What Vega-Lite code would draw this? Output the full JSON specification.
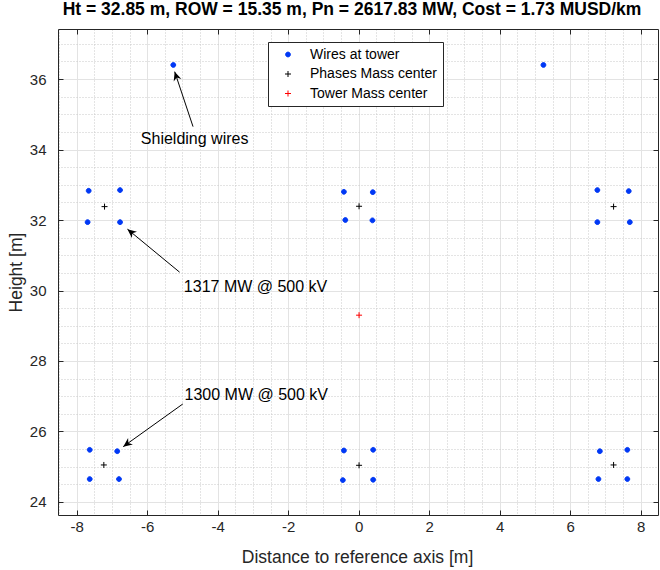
{
  "$schema": "https://vega.github.io/schema/vega-lite/v6.json",
  "width": 600,
  "height": 486,
  "autosize": "none",
  "padding": {"left": 58, "top": 29, "right": 2, "bottom": 55},
  "background": "white",
  "title": {
    "text": "Ht = 32.85 m, ROW = 15.35 m, Pn = 2617.83 MW, Cost = 1.73 MUSD/km",
    "font": "Liberation Sans",
    "fontSize": 17.5,
    "fontWeight": "bold",
    "color": "black",
    "anchor": "middle",
    "frame": "group",
    "baseline": "alphabetic",
    "offset": 10,
    "dx": -6,
    "dy": 14
  },
  "config": {
    "view": {"stroke": null},
    "axis": {
      "labelFont": "Liberation Sans",
      "titleFont": "Liberation Sans",
      "labelColor": "#262626",
      "titleColor": "#262626",
      "domainColor": "#262626",
      "tickColor": "#262626",
      "titleFontWeight": "normal"
    }
  },
  "datasets": {
    "points": [
      {"x": -7.66, "y": 32.83, "type": "Wires at tower"},
      {"x": -6.77, "y": 32.85, "type": "Wires at tower"},
      {"x": -7.69, "y": 31.94, "type": "Wires at tower"},
      {"x": -6.77, "y": 31.94, "type": "Wires at tower"},
      {"x": -0.42, "y": 32.8, "type": "Wires at tower"},
      {"x": 0.4, "y": 32.79, "type": "Wires at tower"},
      {"x": -0.38, "y": 32.0, "type": "Wires at tower"},
      {"x": 0.39, "y": 31.99, "type": "Wires at tower"},
      {"x": 6.77, "y": 32.85, "type": "Wires at tower"},
      {"x": 7.66, "y": 32.82, "type": "Wires at tower"},
      {"x": 6.77, "y": 31.94, "type": "Wires at tower"},
      {"x": 7.69, "y": 31.94, "type": "Wires at tower"},
      {"x": -7.63, "y": 25.48, "type": "Wires at tower"},
      {"x": -6.85, "y": 25.44, "type": "Wires at tower"},
      {"x": -7.63, "y": 24.65, "type": "Wires at tower"},
      {"x": -6.8, "y": 24.65, "type": "Wires at tower"},
      {"x": -0.42, "y": 25.46, "type": "Wires at tower"},
      {"x": 0.41, "y": 25.48, "type": "Wires at tower"},
      {"x": -0.45, "y": 24.62, "type": "Wires at tower"},
      {"x": 0.41, "y": 24.63, "type": "Wires at tower"},
      {"x": 6.84, "y": 25.44, "type": "Wires at tower"},
      {"x": 7.62, "y": 25.48, "type": "Wires at tower"},
      {"x": 6.8, "y": 24.65, "type": "Wires at tower"},
      {"x": 7.62, "y": 24.65, "type": "Wires at tower"},
      {"x": -5.26, "y": 36.4, "type": "Wires at tower"},
      {"x": 5.24, "y": 36.4, "type": "Wires at tower"},
      {"x": -7.21, "y": 32.38, "type": "Phases Mass center"},
      {"x": 0.01, "y": 32.39, "type": "Phases Mass center"},
      {"x": 7.23, "y": 32.38, "type": "Phases Mass center"},
      {"x": -7.23, "y": 25.05, "type": "Phases Mass center"},
      {"x": 0.01, "y": 25.04, "type": "Phases Mass center"},
      {"x": 7.23, "y": 25.05, "type": "Phases Mass center"},
      {"x": 0.01, "y": 29.3, "type": "Tower Mass center"}
    ],
    "arrows": [
      {"id": 1, "x": -4.7, "y": 34.65, "tipx": -5.22, "tipy": 36.21},
      {"id": 2, "x": -5.08, "y": 30.52, "tipx": -6.56, "tipy": 31.74},
      {"id": 3, "x": -4.99, "y": 26.78, "tipx": -6.68, "tipy": 25.57}
    ],
    "labels": [
      {"text": "Shielding wires", "x": -6.18, "y": 34.3},
      {"text": "1317 MW @ 500 kV", "x": -4.96, "y": 30.1},
      {"text": "1300 MW @ 500 kV", "x": -4.94, "y": 27.04}
    ]
  },
  "resolve": {"axis": {"x": "independent", "y": "independent"}},
  "layer": [
    {
      "data": {"name": "points"},
      "mark": {"type": "point", "opacity": 0},
      "encoding": {
        "x": {
          "field": "x", "type": "quantitative",
          "scale": {"domain": [-8.53, 8.49], "nice": false, "zero": false},
          "axis": {
            "orient": "bottom",
            "values": [-8.5, -7.5, -7, -6.5, -5.5, -5, -4.5, -3.5, -3, -2.5, -1.5, -1, -0.5, 0.5, 1, 1.5, 2.5, 3, 3.5, 4.5, 5, 5.5, 6.5, 7, 7.5],
            "grid": true, "gridDash": [1, 2], "gridColor": "#c8c8c8", "gridWidth": 1,
            "domain": false, "ticks": false, "labels": false, "title": null
          }
        },
        "y": {
          "field": "y", "type": "quantitative",
          "scale": {"domain": [23.63, 37.42], "nice": false, "zero": false},
          "axis": {
            "orient": "left",
            "values": [24.5, 25, 25.5, 26.5, 27, 27.5, 28.5, 29, 29.5, 30.5, 31, 31.5, 32.5, 33, 33.5, 34.5, 35, 35.5, 36.5, 37],
            "grid": true, "gridDash": [1, 2], "gridColor": "#c8c8c8", "gridWidth": 1,
            "domain": false, "ticks": false, "labels": false, "title": null
          }
        }
      }
    },
    {
      "data": {"name": "points"},
      "mark": {"type": "point", "opacity": 0},
      "encoding": {
        "x": {
          "field": "x", "type": "quantitative",
          "scale": {"domain": [-8.53, 8.49], "nice": false, "zero": false},
          "axis": {
            "orient": "top",
            "values": [-8, -6, -4, -2, 0, 2, 4, 6, 8],
            "grid": false, "labels": false, "domain": true, "ticks": true,
            "tickSize": -5, "title": null
          }
        },
        "y": {
          "field": "y", "type": "quantitative",
          "scale": {"domain": [23.63, 37.42], "nice": false, "zero": false},
          "axis": {
            "orient": "right",
            "values": [24, 26, 28, 30, 32, 34, 36],
            "grid": false, "labels": false, "domain": true, "ticks": true,
            "tickSize": -5, "title": null
          }
        }
      }
    },
    {
      "data": {"name": "points"},
      "mark": {"type": "point", "filled": true, "size": 36, "strokeWidth": 1, "opacity": 1},
      "encoding": {
        "x": {
          "field": "x", "type": "quantitative",
          "scale": {"domain": [-8.53, 8.49], "nice": false, "zero": false},
          "axis": {
            "orient": "bottom",
            "values": [-8, -6, -4, -2, 0, 2, 4, 6, 8],
            "labelExpr": "datum.value < 0 ? '-' + abs(datum.value) : '' + datum.value",
            "grid": true, "gridColor": "#e3e3e3", "gridWidth": 1,
            "domain": true, "ticks": true, "tickSize": -5,
            "labelFontSize": 15, "labelPadding": 9,
            "title": "Distance to reference axis [m]",
            "titleFontSize": 17.5, "titleX": 299, "titleY": 47,
            "titleAlign": "center", "titleBaseline": "alphabetic"
          }
        },
        "y": {
          "field": "y", "type": "quantitative",
          "scale": {"domain": [23.63, 37.42], "nice": false, "zero": false},
          "axis": {
            "orient": "left",
            "values": [24, 26, 28, 30, 32, 34, 36],
            "grid": true, "gridColor": "#e3e3e3", "gridWidth": 1,
            "domain": true, "ticks": true, "tickSize": -5,
            "labelFontSize": 15, "labelPadding": 17,
            "title": "Height [m]",
            "titleFontSize": 17.5, "titleX": -37, "titleY": 243,
            "titleAngle": -90, "titleAlign": "center", "titleBaseline": "alphabetic"
          }
        },
        "shape": {
          "field": "type", "type": "nominal",
          "scale": {
            "domain": ["Wires at tower", "Phases Mass center", "Tower Mass center"],
            "range": ["M-0.8,0A0.8,0.8,0,1,0,0.8,0A0.8,0.8,0,1,0,-0.8,0Z", "M-1,0H1M0,-1V1", "M-1,0H1M0,-1V1"]
          },
          "legend": {
            "orient": "none", "legendX": 210, "legendY": 13, "title": null,
            "fillColor": "white", "strokeColor": "#262626", "padding": 5.5,
            "labelFont": "Liberation Sans", "labelFontSize": 14, "labelColor": "black",
            "symbolOffset": 7.5, "labelOffset": 15, "rowPadding": 5.5,
            "symbolSize": 36, "symbolStrokeWidth": 1
          }
        },
        "fill": {
          "field": "type", "type": "nominal",
          "scale": {
            "domain": ["Wires at tower", "Phases Mass center", "Tower Mass center"],
            "range": ["#0038f5", "#000000", "#ff0000"]
          },
          "legend": {
            "orient": "none", "legendX": 210, "legendY": 13, "title": null,
            "fillColor": "white", "strokeColor": "#262626", "padding": 5.5,
            "labelFont": "Liberation Sans", "labelFontSize": 14, "labelColor": "black",
            "symbolOffset": 7.5, "labelOffset": 15, "rowPadding": 5.5,
            "symbolSize": 36, "symbolStrokeWidth": 1
          }
        },
        "stroke": {
          "field": "type", "type": "nominal",
          "scale": {
            "domain": ["Wires at tower", "Phases Mass center", "Tower Mass center"],
            "range": ["#0038f5", "#000000", "#ff0000"]
          },
          "legend": {
            "orient": "none", "legendX": 210, "legendY": 13, "title": null,
            "fillColor": "white", "strokeColor": "#262626", "padding": 5.5,
            "labelFont": "Liberation Sans", "labelFontSize": 14, "labelColor": "black",
            "symbolOffset": 7.5, "labelOffset": 15, "rowPadding": 5.5,
            "symbolSize": 36, "symbolStrokeWidth": 1
          }
        }
      }
    },
    {
      "data": {"name": "arrows"},
      "mark": {"type": "rule", "color": "black", "strokeWidth": 1},
      "encoding": {
        "x": {"field": "x", "type": "quantitative", "axis": null},
        "y": {"field": "y", "type": "quantitative", "axis": null},
        "x2": {"field": "tipx"},
        "y2": {"field": "tipy"}
      }
    },
    {
      "data": {"name": "arrows"},
      "transform": [{"filter": "datum.id == 1"}],
      "mark": {"type": "point", "shape": "M0,0L0.45,1L0,0.7L-0.45,1Z", "size": 324, "filled": true, "color": "black", "strokeWidth": 0, "opacity": 1, "angle": -18.4},
      "encoding": {
        "x": {"field": "tipx", "type": "quantitative", "axis": null},
        "y": {"field": "tipy", "type": "quantitative", "axis": null}
      }
    },
    {
      "data": {"name": "arrows"},
      "transform": [{"filter": "datum.id == 2"}],
      "mark": {"type": "point", "shape": "M0,0L0.45,1L0,0.7L-0.45,1Z", "size": 324, "filled": true, "color": "black", "strokeWidth": 0, "opacity": 1, "angle": -50.9},
      "encoding": {
        "x": {"field": "tipx", "type": "quantitative", "axis": null},
        "y": {"field": "tipy", "type": "quantitative", "axis": null}
      }
    },
    {
      "data": {"name": "arrows"},
      "transform": [{"filter": "datum.id == 3"}],
      "mark": {"type": "point", "shape": "M0,0L0.45,1L0,0.7L-0.45,1Z", "size": 324, "filled": true, "color": "black", "strokeWidth": 0, "opacity": 1, "angle": -126},
      "encoding": {
        "x": {"field": "tipx", "type": "quantitative", "axis": null},
        "y": {"field": "tipy", "type": "quantitative", "axis": null}
      }
    },
    {
      "data": {"name": "labels"},
      "mark": {"type": "text", "align": "left", "baseline": "middle", "font": "Liberation Sans", "fontSize": 16, "color": "black"},
      "encoding": {
        "x": {"field": "x", "type": "quantitative", "axis": null},
        "y": {"field": "y", "type": "quantitative", "axis": null},
        "text": {"field": "text"}
      }
    }
  ]
}
